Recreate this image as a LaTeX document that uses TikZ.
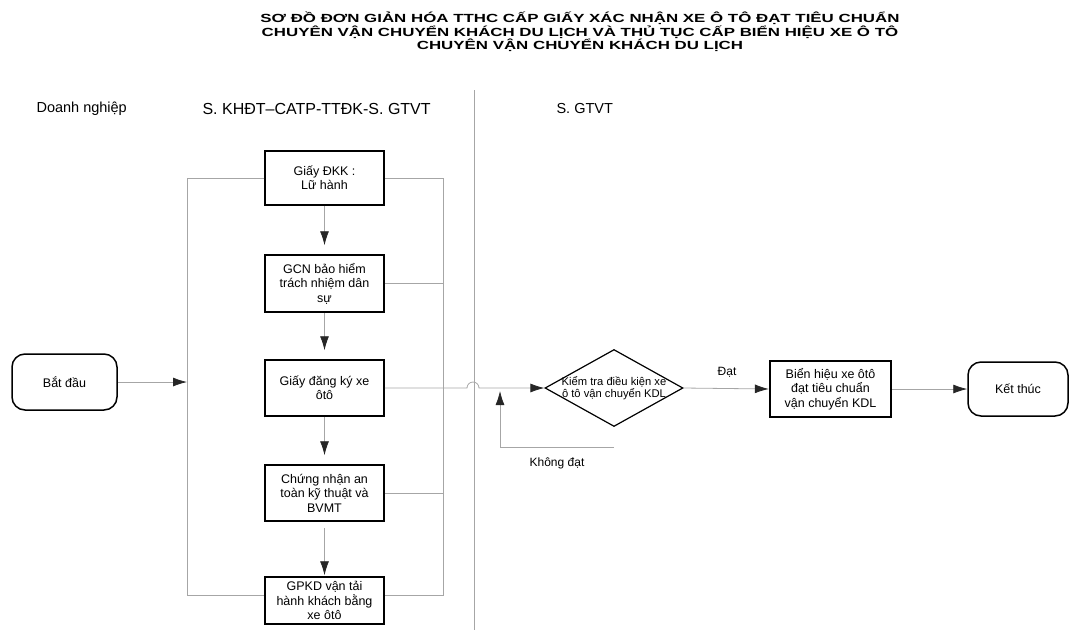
\documentclass[tikz,border=0pt]{standalone}
\usepackage{fontspec}
\setmainfont{Liberation Sans}
\usetikzlibrary{arrows.meta,shapes.geometric}
\begin{document}
\begin{tikzpicture}[x=1pt,y=-1pt,
  conn/.style={draw=black!35, line width=0.8pt},
  arr/.style={conn, -{Latex[length=14pt,width=9pt,color=black!85]}},
  procbox/.style={draw=black, line width=1.5pt, minimum width=119pt, align=center, font=\fontsize{12.5}{14.5}\selectfont, inner sep=1pt},
  termbox/.style={draw=black, line width=1.5pt, rounded corners=13pt, align=center, font=\fontsize{12.5}{14.5}\selectfont},
  lanelabel/.style={font=\fontsize{14.5}{17}\selectfont, anchor=west},
  tline/.style={font=\bfseries\fontsize{11.8}{13.6}\selectfont},
]
\useasboundingbox (0,0) rectangle (1069,630);

% title
\node[tline, align=center] (title) at (580,32)
  {\scalebox{1.43}[1]{SƠ ĐỒ ĐƠN GIẢN HÓA TTHC CẤP GIẤY XÁC NHẬN XE Ô TÔ ĐẠT TIÊU CHUẨN}\\
   \scalebox{1.43}[1]{CHUYÊN VẬN CHUYỂN KHÁCH DU LỊCH VÀ THỦ TỤC CẤP BIỂN HIỆU XE Ô TÔ}\\
   \scalebox{1.43}[1]{CHUYÊN VẬN CHUYỂN KHÁCH DU LỊCH}};

% lane labels
\node[lanelabel] (l1) at (33,109) {Doanh nghiệp};
\node[lanelabel, font=\fontsize{16}{18}\selectfont] (l2) at (199,109) {S. KHĐT–CATP-TTĐK-S. GTVT};
\node[lanelabel] (l3) at (553,109) {S. GTVT};

% lane divider
\coordinate (dtop) at (474,90);
\coordinate (dbot) at (474,630);
\draw[conn, line width=0.6pt] (dtop) -- (dbot);

% nodes
\node[termbox, minimum width=105pt, minimum height=56pt] (start) at (64.5,382) {Bắt đầu};
\node[procbox, minimum height=54pt] (b1) at (324.5,178) {Giấy ĐKK :\\Lữ hành};
\node[procbox, minimum height=57pt] (b2) at (324.5,283.5) {GCN bảo hiểm\\trách nhiệm dân\\sự};
\node[procbox, minimum height=56pt] (b3) at (324.5,388) {Giấy đăng ký xe\\ôtô};
\node[procbox, minimum height=56pt] (b4) at (324.5,493) {Chứng nhận an\\toàn kỹ thuật và\\BVMT};
\node[procbox, minimum height=47pt] (b5) at (324.5,600.5) {GPKD vận tải\\hành khách bằng\\xe ôtô};
\node[draw=black, line width=1.2pt, shape=diamond, aspect=1.79, minimum width=138pt, minimum height=77pt, inner sep=-8pt, align=center, font=\fontsize{11.2}{11.8}\selectfont] (chk) at (614,388) {Kiểm tra điều kiện xe\\ô tô vận chuyển KDL};
\node[procbox, line width=2.4pt, minimum width=121pt, minimum height=56pt] (b6) at (830.5,389) {Biển hiệu xe ôtô\\đạt tiêu chuẩn\\vận chuyển KDL};
\node[termbox, minimum width=100pt, minimum height=54pt] (end) at (1018,389) {Kết thúc};

% bracket lines
\coordinate (lt) at (187,178);
\coordinate (lb) at (187,595);
\coordinate (lm) at (187,382);
\coordinate (rt) at (443,178);
\coordinate (rb) at (443,595);
\draw[conn] (b1.west) -- (lt) -- (lb) -- (lb -| b5.west);
\draw[conn] (b1.east) -- (rt) -- (rb) -- (rb -| b5.east);
\draw[conn] (b2.east) -- (b2.east -| rt);
\draw[conn] (b4.east) -- (b4.east -| rt);

% start arrow
\draw[arr] (start.east) -- (start.east -| lm);

% vertical arrows
\draw[arr, shorten >=9pt] (b1) -- (b2);
\draw[arr, shorten >=9pt] (b2) -- (b3);
\draw[arr, shorten >=9pt] (b3) -- (b4);
\draw[arr, shorten >=1pt, shorten <=6pt] (b4) -- (b5);

% box3 to decision, with a hop over the lane divider
\coordinate (hop) at (467,388);
\draw[arr] (b3.east) -- (hop) arc[start angle=180, end angle=360, radius=6] -- (chk.west);

% loop back
\coordinate (lpstart) at (614,447);
\coordinate (lpend) at (500,391);
\draw[arr] (lpstart) -| (lpend);
\node[font=\fontsize{12}{14}\selectfont] (kd) at (557,463) {Không đạt};

% yes path
\draw[arr] (chk.east) -- (b6.west);
\node[font=\fontsize{12}{14}\selectfont] (dat) at (727,372) {Đạt};
\draw[arr] (b6.east) -- (end.west);
\end{tikzpicture}
\end{document}
